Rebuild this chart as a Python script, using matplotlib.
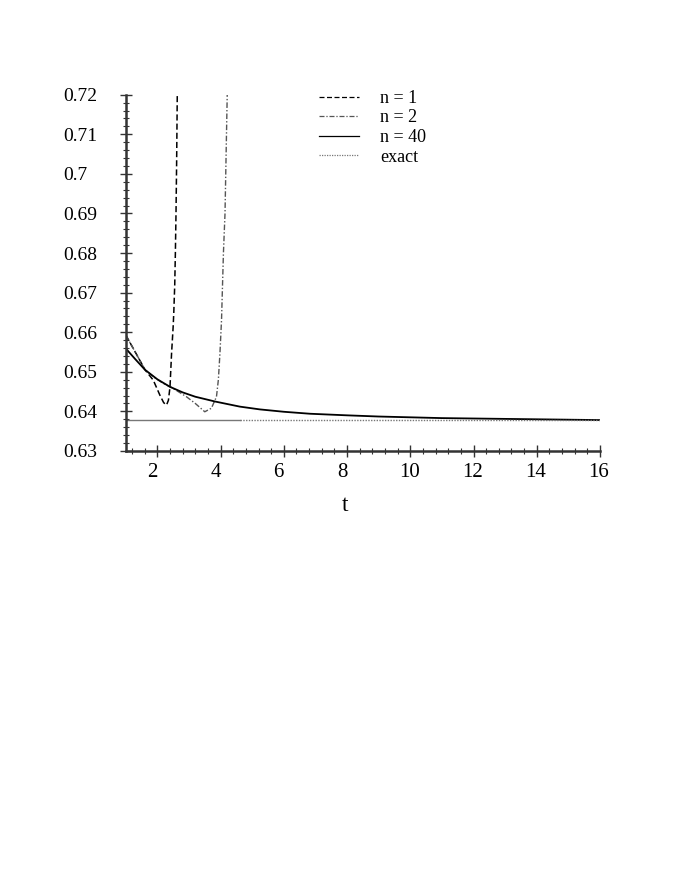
import matplotlib
matplotlib.use('Agg')
import matplotlib.pyplot as plt
import matplotlib.transforms as mtransforms
import numpy as np

plt.rcParams['font.family'] = ['Liberation Serif', 'DejaVu Serif']

# n = 1 (dashed)
t_n1 = [1.0, 1.3, 1.61, 1.87, 2.08, 2.2, 2.29, 2.35, 2.40, 2.45, 2.50, 2.52, 2.55, 2.57, 2.59, 2.61, 2.63]
y_n1 = [0.6593, 0.6550, 0.6505, 0.6479, 0.6441, 0.6422, 0.6416, 0.6428, 0.6462, 0.6547, 0.6614, 0.6650,
        0.6720, 0.6800, 0.6900, 0.7030, 0.7200]

# n = 2 (dash-dot)
t_n2 = [1.0, 1.3, 1.61, 1.9, 2.18, 2.5, 2.92, 3.2, 3.5, 3.71, 3.87, 3.93, 3.98, 4.03, 4.09, 4.14, 4.21]
y_n2 = [0.6593, 0.6550, 0.6505, 0.6486, 0.6471, 0.6458, 0.6437, 0.6420, 0.6399, 0.6408, 0.6437, 0.6480,
        0.6547, 0.6631, 0.6800, 0.6900, 0.7200]

# n = 40 (solid)
t_n40 = [1.0, 1.3, 1.61, 2.0, 2.4, 2.8, 3.2, 3.82, 4.61, 5.24, 6.0, 6.83, 8.0, 9.0, 10.0, 11.0, 12.0, 13.0, 14.0, 15.0, 16.0]
y_n40 = [0.6559, 0.6532, 0.6505, 0.6481, 0.6462, 0.6448, 0.6437, 0.6425, 0.6412, 0.6405, 0.6399, 0.6394,
         0.6390, 0.6387, 0.6385, 0.6383, 0.6382, 0.6381, 0.6380, 0.6379, 0.6378]

# exact
t_exact_a = [1.0, 4.6]
t_exact_b = [4.6, 16.0]
y_exact = 0.6377

xticks = [2, 4, 6, 8, 10, 12, 14, 16]
yticks = [0.63, 0.64, 0.65, 0.66, 0.67, 0.68, 0.69, 0.70, 0.71, 0.72]
ytick_labels = ['0.63', '0.64', '0.65', '0.66', '0.67', '0.68', '0.69', '0.7', '0.71', '0.72']

fig = plt.figure(figsize=(6.92, 8.96), dpi=100)
ax = fig.add_axes([0.1817, 0.4967, 0.8670 - 0.1817, 0.8943 - 0.4967])

ax.plot(t_n1, y_n1, color='black', lw=1.1, ls=(0, (4, 2)), label='n = 1')
ax.plot(t_n2, y_n2, color='#555555', lw=1.0, ls=(0, (4, 1.5, 1, 1.5)), label='n = 2')
ax.plot(t_n40, y_n40, color='black', lw=1.3, ls='-', label='n = 40')
ax.plot(t_exact_a, [y_exact] * 2, color='#777777', lw=1.0, ls='-')
ax.plot(t_exact_b, [y_exact] * 2, color='#777777', lw=1.0, ls=(0, (1, 1)), label='exact')

ax.set_xlim(1.0, 16.0)
ax.set_ylim(0.63, 0.72)

ax.set_xticks(xticks)
ax.set_xticks(np.arange(1.2, 16.0, 0.4), minor=True)
ax.set_yticks(yticks)
ax.set_yticklabels(ytick_labels)
ax.set_yticks(np.arange(0.632, 0.72, 0.002), minor=True)

for s in ['top', 'right']:
    ax.spines[s].set_visible(False)
for s in ['left', 'bottom']:
    ax.spines[s].set_linewidth(1.8)
    ax.spines[s].set_color('#333333')

ax.tick_params(which='major', direction='inout', length=8, width=1.0, color='#333333', pad=4)
ax.tick_params(which='minor', direction='inout', length=5, width=0.8, color='#333333')
ax.tick_params(axis='y', which='major', labelsize=14, pad=15)
ax.tick_params(axis='x', which='major', labelsize=15, pad=5)

# y labels are left aligned in the original
yshift = mtransforms.ScaledTranslation(-36 / 100, 0, fig.dpi_scale_trans)
for lab in ax.get_yticklabels():
    lab.set_horizontalalignment('left')
    lab.set_transform(lab.get_transform() + yshift)

# single-digit x labels sit a little left of their ticks in the original
for lab, v in zip(ax.get_xticklabels(), xticks):
    dx = -5 if v < 10 else -1
    shift = mtransforms.ScaledTranslation(dx / 100, 0, fig.dpi_scale_trans)
    lab.set_transform(lab.get_transform() + shift)

ax.set_xlabel('t', fontsize=17)
ax.xaxis.set_label_coords(0.462, -0.125)

leg = ax.legend(loc='upper left', bbox_to_anchor=(0.373, 1.059), frameon=False,
                fontsize=13, handlelength=2.2, handletextpad=1.2, labelspacing=0.14)
for line in leg.get_lines():
    line.set_linewidth(0.9)

fig.savefig('out.png', dpi=100)
plt.close(fig)
